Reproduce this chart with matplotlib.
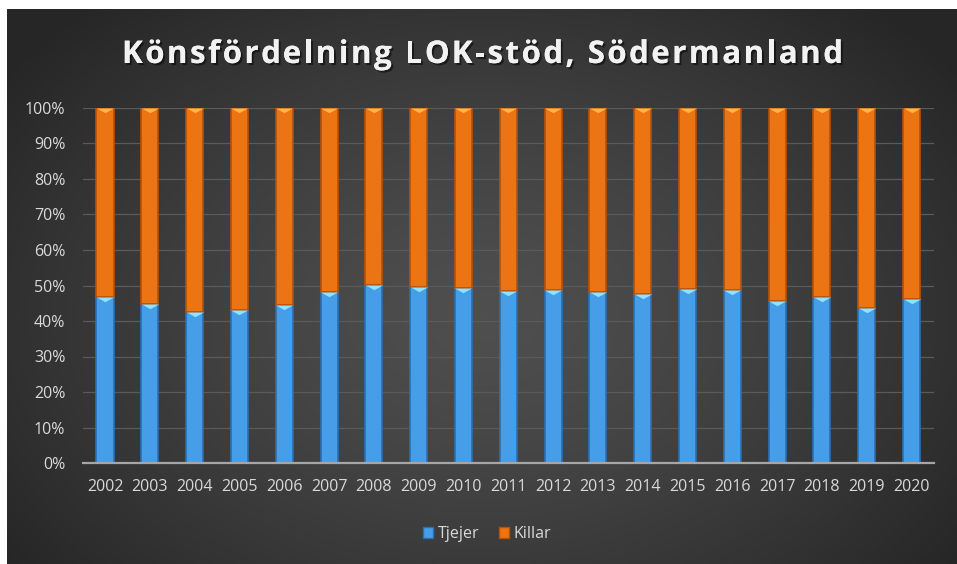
import numpy as np
import matplotlib
matplotlib.use("Agg")
import matplotlib.pyplot as plt
from matplotlib.path import Path
from matplotlib.markers import MarkerStyle
import matplotlib.patheffects as pe

years = [str(y) for y in range(2002, 2021)]
tjejer = [46.7, 44.9, 42.6, 43.1, 44.5, 48.2, 50.2, 49.5, 49.2, 48.5,
          48.7, 48.2, 47.7, 49.0, 48.7, 45.7, 46.7, 43.7, 46.3]
killar = [100 - v for v in tjejer]
title = "Könsfördelning LOK-stöd, Södermanland"
series_names = ["Tjejer", "Killar"]

plt.rcParams['font.family'] = ['Open Sans', 'DejaVu Sans']

W, H = 957, 564
fig = plt.figure(figsize=(W / 100, H / 100), dpi=100)
fig.patch.set_facecolor("white")

# background panel with radial gradient
bg = fig.add_axes([7 / W, 0, (W - 7) / W, (H - 9) / H])
bg.set_axis_off()
ny, nx = 300, 500
yy, xx = np.mgrid[0:ny, 0:nx]
cx, cy = nx * 0.50, ny * 0.55
d = np.sqrt(((xx - cx) / (nx * 0.62)) ** 2 + ((yy - cy) / (ny * 0.75)) ** 2)
d = np.clip(d, 0, 1)
lo, hi = 0.15, 0.31
val = hi - (hi - lo) * d ** 1.3
img = np.dstack([val, val, val])
bg.imshow(img, aspect='auto', extent=[0, 1, 0, 1], interpolation='bilinear')
bg.set_xlim(0, 1)
bg.set_ylim(0, 1)

ax = fig.add_axes([82.6 / W, (H - 463) / H, (934 - 82.6) / W, (463 - 108) / H])
ax.patch.set_alpha(0)
x = np.arange(len(years))
bw = 0.38

blue, blue_e, blue_t = "#479ee8", "#2b6fb2", "#8fe3ff"
orng, orng_e, orng_t = "#ec7412", "#b4520a", "#ffb54a"

ax.bar(x, tjejer, bw, color=blue, edgecolor=blue_e, linewidth=1.2, zorder=3)
ax.bar(x, killar, bw, bottom=tjejer, color=orng, edgecolor=orng_e, linewidth=1.2, zorder=3)

tri = MarkerStyle(Path([(-1, 0), (1, 0), (0, -0.55), (-1, 0)],
                       [Path.MOVETO, Path.LINETO, Path.LINETO, Path.CLOSEPOLY]))
ax.scatter(x, tjejer, marker=tri, s=150, color=blue_t, linewidths=0, zorder=4)
ax.scatter(x, [t + k for t, k in zip(tjejer, killar)], marker=tri, s=150,
           color=orng_t, linewidths=0, zorder=4)

ax.set_xlim(-0.5, len(years) - 0.5)
ax.set_ylim(0, 100)
ax.set_yticks(np.arange(0, 101, 10))
ax.set_yticklabels([f"{v}%" for v in range(0, 101, 10)])
ax.set_xticks(x)
ax.set_xticklabels(years)
ax.grid(axis='y', color="#5a5a5a", linewidth=0.9, zorder=0)
for s in ['top', 'right', 'left']:
    ax.spines[s].set_visible(False)
ax.spines['bottom'].set_color("#a6a6a6")
ax.spines['bottom'].set_linewidth(1.6)
ax.spines['bottom'].set_zorder(5)
ax.tick_params(axis='both', length=0, labelsize=11.5, colors="#d9d9d9")
ax.tick_params(axis='y', pad=12.5)
ax.tick_params(axis='x', pad=11.5)

# title with letter spacing
fig.canvas.draw()
renderer = fig.canvas.get_renderer()
tkw = dict(fontsize=22.5, fontweight='bold', color="#f2f2f2", va='baseline', ha='left',
           path_effects=[pe.withSimplePatchShadow(offset=(1.5, -1.5), shadow_rgbFace='black', alpha=0.5),
                         pe.Normal()])
probe = fig.text(0, 0, title, **tkw)
natural = probe.get_window_extent(renderer).width
probe.remove()
target_w, x_left, base_y = 721, 122, 63
n = len(title)
spacing = (target_w - natural) / (n - 1)
for i, ch in enumerate(title):
    if i == 0:
        off = 0
    else:
        p = fig.text(0, 0, title[:i] + "|", **tkw)
        q = fig.text(0, 0, "|", **tkw)
        off = p.get_window_extent(renderer).width - q.get_window_extent(renderer).width
        p.remove(); q.remove()
    fig.text((x_left + off + i * spacing) / W, 1 - base_y / H, ch, **tkw)

handles = [plt.Rectangle((0, 0), 1, 1, facecolor=blue, edgecolor=blue_e),
           plt.Rectangle((0, 0), 1, 1, facecolor=orng, edgecolor=orng_e)]
leg = fig.legend(handles, series_names, loc='center', bbox_to_anchor=(487 / W, 1 - 534 / H),
                 ncol=2, frameon=False, fontsize=11.5, handlelength=0.65, handleheight=0.65,
                 handletextpad=0.3, columnspacing=1.2)
for t in leg.get_texts():
    t.set_color("#d9d9d9")

fig.savefig("out.png", dpi=100)
